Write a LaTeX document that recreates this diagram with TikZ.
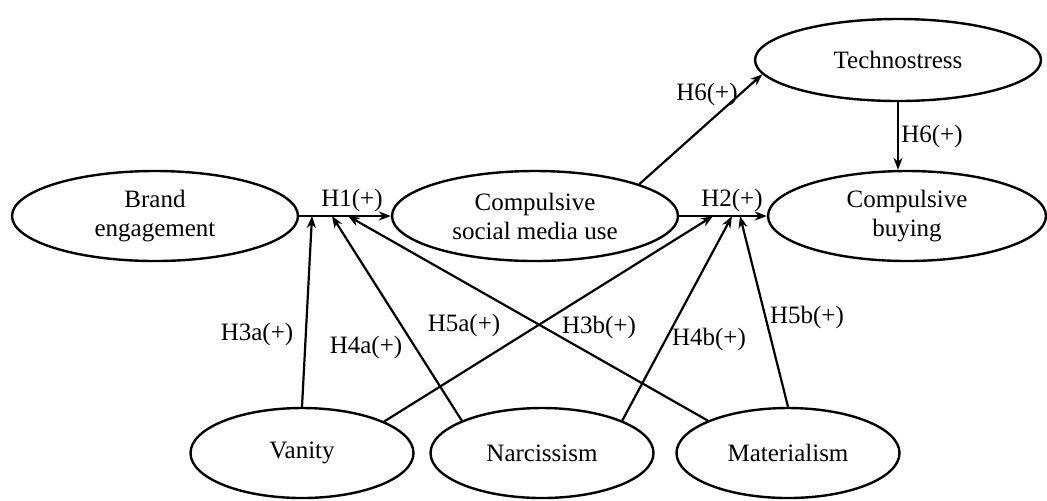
\documentclass[tikz,border=0pt]{standalone}
\usepackage{fontspec}
\setmainfont{Liberation Serif}
\usetikzlibrary{shapes.geometric,arrows.meta}
\begin{document}
\begin{tikzpicture}[x=0.5pt,y=-0.5pt,
  every node/.style={font=\fontsize{12.5}{14.5}\selectfont},
  var/.style={draw,ellipse,line width=1.2pt,inner sep=0pt,minimum width=143pt,minimum height=45pt,align=center},
  smallvar/.style={var,minimum width=111.5pt},
  conn/.style={line width=1.1pt,-{Stealth[length=6pt,width=4.5pt]}},
  lbl/.style={inner sep=1pt}]
\useasboundingbox (0,0) rectangle (1047,500);
\node[var] (brand) at (155,216) {Brand\\engagement};
\node[var] (social) at (535,216) {Compulsive\\social media use};
\node[var,minimum width=139pt] (buying) at (907,216) {Compulsive\\buying};
\node[var,minimum height=41pt] (techno) at (898,60) {Technostress};
\node[smallvar] (vanity) at (302,453) {Vanity};
\node[smallvar] (narc) at (542,453) {Narcissism};
\node[smallvar] (mat) at (788,453) {Materialism};

\draw[conn] (brand.east) -- (social.west);
\draw[conn] (social.east) -- (buying.west);
\draw[conn] (social.17) -- (techno.186);
\draw[conn] (techno.south) -- (techno.south |- buying.north);

\coordinate (h1a) at (312,216);
\coordinate (h1b) at (332,216);
\coordinate (h1c) at (348,216);
\coordinate (h2a) at (713,216);
\coordinate (h2b) at (732,216);
\coordinate (h2c) at (740,216);

\draw[conn] (vanity.north) -- (h1a);
\draw[conn] (narc.158) -- (h1b);
\draw[conn] (mat.158) -- (h1c);
\draw[conn] (vanity.21) -- (h2a);
\draw[conn] (narc.22) -- (h2b);
\draw[conn] (mat.north) -- (h2c);

\node[lbl] (l1) at (352,200) {H1(+)};
\node[lbl] (l2) at (732,200) {H2(+)};
\node[lbl] (l6a) at (707,94) {H6(+)};
\node[lbl] (l6b) at (932,136) {H6(+)};
\node[lbl] (l3a) at (257,334) {H3a(+)};
\node[lbl] (l4a) at (366,347) {H4a(+)};
\node[lbl] (l5a) at (464,325) {H5a(+)};
\node[lbl] (l3b) at (599,327) {H3b(+)};
\node[lbl] (l4b) at (709,339) {H4b(+)};
\node[lbl] (l5b) at (807,317) {H5b(+)};
\end{tikzpicture}
\end{document}
